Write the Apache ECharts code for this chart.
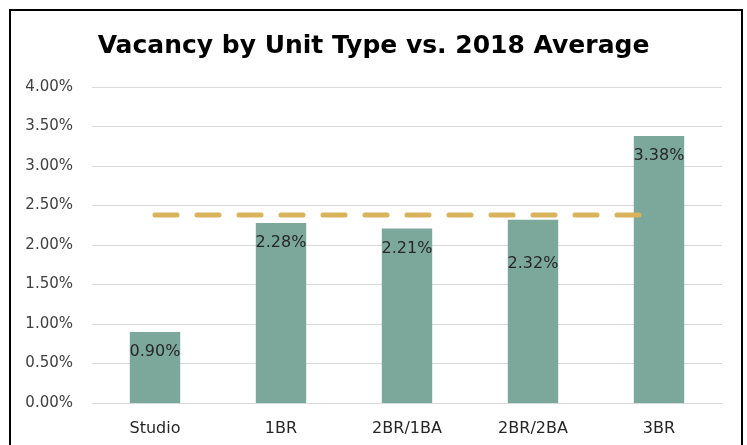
<!DOCTYPE html>
<html>
<head>
<meta charset="utf-8">
<script src="https://cdn.jsdelivr.net/npm/echarts@6/dist/echarts.min.js"></script>
<style>
  html, body { margin: 0; padding: 0; background: #fff; }
  #chart { width: 747px; height: 445px; }
</style>
</head>
<body>
<div id="chart"></div>
<script>
// data
var categories = ['Studio', '1BR', '2BR/1BA', '2BR/2BA', '3BR'];
var vacancy = [0.90, 2.28, 2.21, 2.32, 3.38];
var average2018 = [2.38, 2.38, 2.38, 2.38, 2.38];

var font = '"DejaVu Sans", sans-serif';
var myChart = echarts.init(document.getElementById('chart'), null, { renderer: 'canvas' });

var option = {
    animation: false,
    title: {
        text: 'Vacancy by Unit Type vs. 2018 Average',
        left: 'center',
        top: 29,
        textStyle: { fontFamily: font, fontSize: 25, fontWeight: 'bold', color: '#000' }
    },
    graphic: [{
        type: 'rect',
        shape: { x: 10, y: 10, width: 732, height: 460 },
        style: { fill: 'none', stroke: '#000', lineWidth: 2 }
    }],
    grid: { left: 92, right: 25, top: 87, bottom: 42 },
    xAxis: {
        type: 'category',
        data: categories,
        axisLine: { lineStyle: { color: '#d9d9d9', width: 1 } },
        axisTick: { show: false },
        axisLabel: { fontFamily: font, fontSize: 16, color: '#262626', margin: 18 }
    },
    yAxis: {
        type: 'value',
        min: 0,
        max: 4,
        interval: 0.5,
        axisLine: { show: false },
        axisTick: { show: false },
        splitLine: { lineStyle: { color: '#d9d9d9', width: 1 } },
        axisLabel: {
            fontFamily: font, fontSize: 15, color: '#404040', margin: 19,
            formatter: function (v) { return v.toFixed(2) + '%'; }
        }
    },
    series: [
        {
            type: 'bar',
            barWidth: '40%',
            data: vacancy.map(function (v, i) {
                // the 2BR/2BA label sits lower in the original
                return { value: v, label: { offset: [0, i === 3 ? 24 : 0] } };
            }),
            itemStyle: { color: '#7ba89b' },
            label: {
                show: true,
                position: 'insideTop',
                distance: 12,
                fontFamily: font,
                fontSize: 16,
                color: '#262626',
                formatter: function (p) { return p.value.toFixed(2) + '%'; }
            },
            z: 2
        },
        {
            type: 'line',
            data: average2018,
            symbol: 'none',
            lineStyle: { color: '#d9b25c', width: 5, type: [22, 20], cap: 'round' },
            z: 3
        }
    ]
};
myChart.setOption(option);
</script>
</body>
</html>
